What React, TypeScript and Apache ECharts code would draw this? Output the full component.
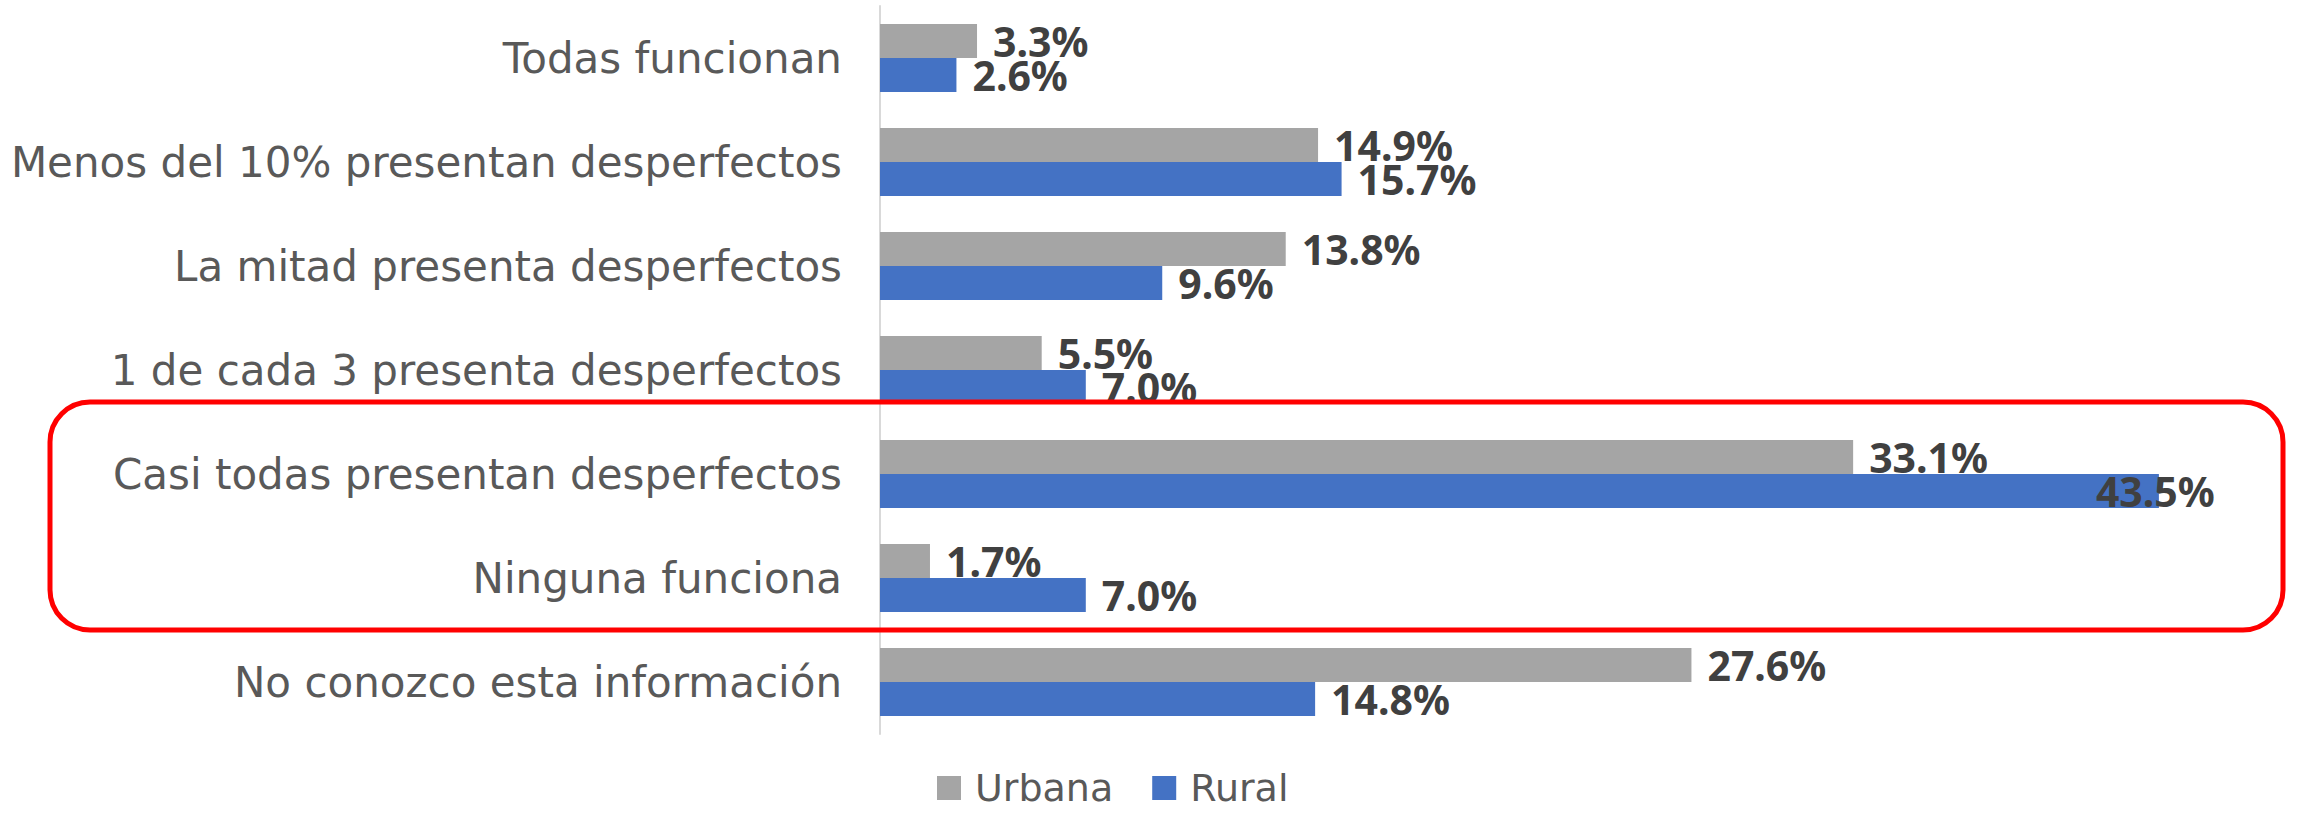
import React, { useEffect, useRef } from "react";
import * as echarts from "echarts";

const categories = [
  "Todas funcionan",
  "Menos del 10% presentan desperfectos",
  "La mitad presenta desperfectos",
  "1 de cada 3 presenta desperfectos",
  "Casi todas presentan desperfectos",
  "Ninguna funciona",
  "No conozco esta información",
];
const urbana = [3.3, 14.9, 13.8, 5.5, 33.1, 1.7, 27.6];
const rural = [2.6, 15.7, 9.6, 7.0, 43.5, 7.0, 14.8];
const seriesNames = ["Urbana", "Rural"];
const colors = ["#A5A5A5", "#4472C4"];

export default function App() {
  const ref = useRef<HTMLDivElement>(null);
  useEffect(() => {
    if (!ref.current) return;
    const chart = echarts.init(ref.current, undefined, { renderer: "svg" });
    const labelStyle = {
      show: true,
      position: "right" as const,
      distance: 16,
      fontFamily: "Noto Sans",
      fontWeight: "bold" as const,
      fontSize: 41,
      color: "#404040",
      formatter: (p: any) => p.value.toFixed(1) + "%",
    };
    const maxIdx = rural.indexOf(Math.max(...rural));
    chart.setOption({
      animation: false,
      grid: { left: 880, top: 6, height: 728, width: 1323, containLabel: false },
      xAxis: { type: "value", min: 0, max: 45, show: false },
      yAxis: {
        type: "category",
        data: categories,
        inverse: true,
        axisLine: { show: true, lineStyle: { color: "#D9D9D9", width: 2 } },
        axisTick: { show: false },
        axisLabel: {
          margin: 38,
          fontFamily: "DejaVu Sans",
          fontSize: 42,
          color: "#595959",
        },
      },
      legend: {
        data: seriesNames,
        left: 932,
        top: 764,
        itemWidth: 24,
        itemHeight: 24,
        itemGap: 39,
        icon: "rect",
        textStyle: {
          fontFamily: "DejaVu Sans",
          fontSize: 38,
          color: "#595959",
          lineHeight: 38,
          padding: [0, 0, 0, 9],
        },
      },
      series: [
        {
          name: seriesNames[0],
          type: "bar",
          data: urbana,
          barGap: "0%",
          barCategoryGap: "34.6%",
          itemStyle: { color: colors[0] },
          label: labelStyle,
        },
        {
          name: seriesNames[1],
          type: "bar",
          data: rural.map((v, i) =>
            i === maxIdx ? { value: v, label: { offset: [-79, 0] } } : v
          ),
          barGap: "0%",
          barCategoryGap: "34.6%",
          itemStyle: { color: colors[1] },
          label: labelStyle,
        },
      ],
      graphic: [
        {
          type: "rect",
          shape: { x: 50, y: 402, width: 2233, height: 228, r: 40 },
          style: { fill: "none", stroke: "#FF0000", lineWidth: 5 },
          z: 100,
        },
      ],
    });
    return () => chart.dispose();
  }, []);
  return (
    <div
      ref={ref}
      style={{ position: "absolute", left: 0, top: 0, width: 2301, height: 814 }}
    />
  );
}
